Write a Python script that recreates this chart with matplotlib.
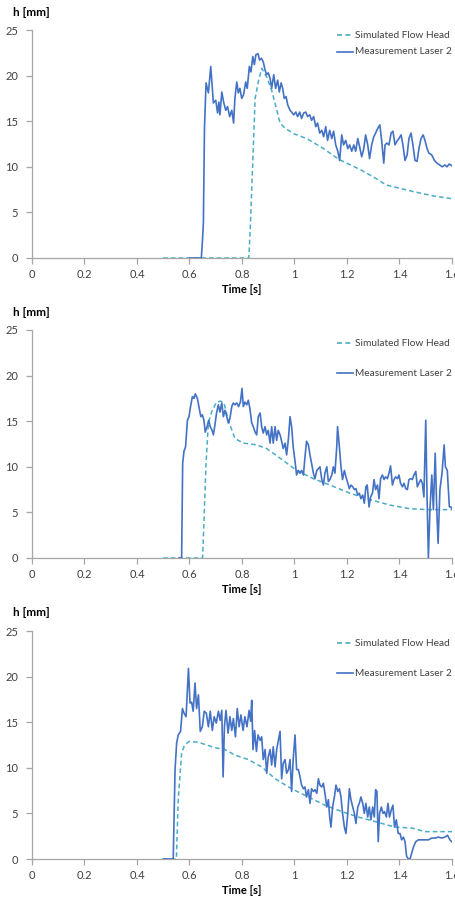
import matplotlib
matplotlib.use("Agg")
import matplotlib.pyplot as plt
from matplotlib.lines import Line2D

plt.rcParams['font.family'] = ['Lato', 'DejaVu Sans']

# ---------------- data ----------------
# Panel 1
t_meas1 = [0.6, 0.645, 0.650, 0.653, 0.657, 0.663, 0.672, 0.681, 0.691, 0.700, 0.707, 0.712, 0.716, 0.723,
           0.730, 0.738, 0.745, 0.753, 0.761, 0.768, 0.773, 0.780, 0.786, 0.792, 0.799, 0.806, 0.814,
           0.820, 0.828, 0.834, 0.841, 0.847, 0.853, 0.861, 0.867, 0.874, 0.881, 0.888, 0.894, 0.900,
           0.907, 0.913, 0.921, 0.928, 0.936, 0.942, 0.949, 0.955, 0.961, 0.968, 0.974, 0.983, 0.989,
           0.997, 1.005, 1.012, 1.020, 1.027, 1.035, 1.043, 1.050, 1.058, 1.065, 1.073, 1.081, 1.088,
           1.096, 1.104, 1.111, 1.119, 1.126, 1.134, 1.142, 1.149, 1.157, 1.165, 1.172, 1.180, 1.187,
           1.195, 1.203, 1.210, 1.218, 1.226, 1.233, 1.241, 1.248, 1.256, 1.264, 1.271, 1.279, 1.286,
           1.294, 1.302, 1.309, 1.317, 1.325, 1.332, 1.340, 1.345, 1.352, 1.360, 1.368, 1.375, 1.383,
           1.390, 1.398, 1.406, 1.413, 1.421, 1.429, 1.436, 1.444, 1.451, 1.459, 1.467, 1.474, 1.482,
           1.490, 1.497, 1.505, 1.512, 1.523, 1.533, 1.543, 1.553, 1.563, 1.573, 1.581, 1.589, 1.600]
h_meas1 = [0.0, 0.0, 2.2, 4.0, 14.2, 19.2, 18.1, 21.0, 17.0, 17.3, 15.9, 17.1, 15.7, 18.2,
           17.1, 16.2, 16.6, 15.5, 16.2, 14.8, 17.5, 19.3, 18.1, 18.6, 17.5, 17.9, 19.3,
           18.6, 21.0, 20.4, 22.1, 21.2, 22.3, 22.4, 21.7, 21.9, 21.5, 20.6, 20.1, 20.3,
           19.7, 18.6, 20.1, 18.6, 19.5, 18.2, 19.2, 18.6, 17.5, 17.7, 16.8, 16.2, 16.0,
           15.7, 16.0, 15.5, 16.0, 15.3, 15.9, 16.0, 15.5, 15.7, 15.1, 15.5, 14.4, 14.8,
           13.7, 14.0, 13.3, 14.4, 12.9, 14.0, 13.1, 13.9, 12.4, 11.7, 10.7, 13.5, 12.4,
           12.9, 12.0, 12.4, 11.7, 12.4, 11.7, 13.1, 12.2, 11.1, 12.0, 13.5, 12.4, 10.9,
           12.4, 13.3, 13.7, 14.2, 14.6, 12.9, 10.4, 12.4, 12.6, 12.4, 13.7, 13.9, 12.4,
           12.8, 13.1, 13.5, 12.4, 10.7, 11.3, 13.1, 13.7, 12.4, 10.7, 10.6, 12.0, 13.1,
           13.5, 12.9, 12.0, 11.5, 11.3, 10.7, 10.4, 10.2, 10.0, 10.2, 10.0, 10.3, 10.1]
t_sim1 = [0.5, 0.826, 0.832, 0.850, 0.862, 0.875, 0.895, 0.913, 0.945, 0.965, 1.0, 1.046, 1.105,
          1.17, 1.25, 1.30, 1.35, 1.45, 1.53, 1.6]
h_sim1 = [0.0, 0.0, 3.6, 17.5, 19.3, 20.8, 19.8, 18.4, 14.8, 14.2, 13.6, 13.1, 12.1,
          10.8, 9.7, 8.9, 8.0, 7.3, 6.8, 6.5]

# Panel 2
t_meas2 = [0.56, 0.570, 0.574, 0.579, 0.585, 0.592, 0.598, 0.604, 0.611, 0.617, 0.622, 0.630, 0.636, 0.643,
           0.649, 0.655, 0.660, 0.667, 0.673, 0.679, 0.686, 0.691, 0.697, 0.703, 0.710, 0.716, 0.723,
           0.729, 0.735, 0.742, 0.748, 0.754, 0.761, 0.767, 0.773, 0.780, 0.787, 0.794, 0.800, 0.805,
           0.811, 0.818, 0.824, 0.830, 0.837, 0.843, 0.850, 0.856, 0.862, 0.869, 0.875, 0.881, 0.888,
           0.894, 0.900, 0.907, 0.913, 0.919, 0.926, 0.932, 0.938, 0.945, 0.951, 0.957, 0.964, 0.970,
           0.977, 0.983, 0.989, 0.995, 1.002, 1.008, 1.015, 1.021, 1.027, 1.034, 1.040, 1.046, 1.053,
           1.059, 1.065, 1.072, 1.078, 1.085, 1.091, 1.097, 1.104, 1.110, 1.116, 1.123, 1.129, 1.135,
           1.142, 1.148, 1.154, 1.161, 1.164, 1.171, 1.177, 1.183, 1.190, 1.196, 1.203, 1.209, 1.215,
           1.222, 1.228, 1.234, 1.241, 1.247, 1.253, 1.260, 1.266, 1.272, 1.277, 1.284, 1.290, 1.297,
           1.303, 1.309, 1.316, 1.322, 1.328, 1.335, 1.341, 1.347, 1.354, 1.360, 1.366, 1.373, 1.379,
           1.385, 1.392, 1.398, 1.404, 1.411, 1.417, 1.424, 1.430, 1.436, 1.443, 1.449, 1.455, 1.462,
           1.468, 1.474, 1.481, 1.487, 1.493, 1.500, 1.505, 1.510, 1.516, 1.523, 1.529, 1.536, 1.542,
           1.547, 1.554, 1.562, 1.570, 1.575, 1.582, 1.590, 1.596, 1.600]
h_meas2 = [0.0, 0.0, 10.4, 11.7, 12.2, 15.1, 15.5, 16.6, 17.7, 17.5, 18.0, 17.5, 16.6, 15.5,
           15.7, 15.1, 13.8, 14.4, 15.1, 14.4, 14.0, 13.5, 14.6, 15.9, 16.8, 16.0, 17.0,
           15.5, 16.2, 15.5, 14.8, 15.3, 16.6, 17.0, 16.8, 17.0, 16.6, 17.1, 18.6, 16.6,
           17.1, 16.8, 17.3, 16.4, 14.8, 14.4, 13.8, 13.5, 15.5, 15.9, 14.4, 13.7, 14.4,
           13.5, 14.0, 12.6, 14.4, 12.6, 14.4, 12.9, 14.0, 13.5, 12.8, 12.0, 12.6, 11.3,
           13.1, 15.5, 14.4, 12.2, 10.6, 9.1, 9.6, 9.3, 9.6, 9.1, 11.1, 12.8, 12.4,
           11.3, 10.4, 9.3, 8.7, 9.6, 9.8, 10.0, 8.6, 8.0, 9.3, 10.0, 8.4, 8.6,
           9.1, 10.0, 9.3, 12.2, 14.4, 12.2, 10.0, 8.6, 9.6, 8.9, 8.2, 7.6, 8.0,
           7.8, 7.5, 7.6, 6.9, 7.1, 6.5, 6.9, 6.0, 7.8, 8.0, 5.6, 6.7, 7.1,
           8.6, 7.5, 8.0, 6.5, 8.7, 9.1, 8.6, 8.9, 8.7, 9.3, 10.1, 8.0, 8.6,
           8.9, 8.7, 9.1, 8.2, 7.8, 8.2, 7.6, 7.5, 8.6, 8.7, 8.6, 9.1, 9.5,
           7.8, 8.2, 8.6, 8.2, 6.7, 15.1, 6.7, 0.0, 5.3, 9.1, 5.3, 11.5, 5.3,
           1.6, 7.5, 9.3, 12.4, 10.0, 9.6, 5.6, 5.6, 5.4]
t_sim2 = [0.5, 0.650, 0.663, 0.672, 0.684, 0.703, 0.719, 0.731, 0.748, 0.773, 0.805, 0.856, 0.894,
          0.957, 1.008, 1.072, 1.135, 1.211, 1.288, 1.364, 1.44, 1.516, 1.6]
h_sim2 = [0.0, 0.0, 10.4, 14.8, 16.0, 17.1, 17.2, 17.0, 15.1, 13.1, 12.6, 12.4, 12.0,
          10.7, 9.6, 8.7, 8.0, 7.1, 6.4, 5.8, 5.4, 5.3, 5.3]

# Panel 3
t_meas3 = [0.5, 0.538, 0.545, 0.551, 0.557, 0.566, 0.573, 0.579, 0.587, 0.596, 0.602, 0.608, 0.614, 0.621,
           0.627, 0.634, 0.641, 0.649, 0.656, 0.664, 0.672, 0.679, 0.687, 0.694, 0.702, 0.710, 0.717,
           0.723, 0.728, 0.733, 0.739, 0.747, 0.754, 0.761, 0.767, 0.775, 0.782, 0.789, 0.796, 0.804,
           0.811, 0.819, 0.827, 0.833, 0.837, 0.842, 0.848, 0.855, 0.861, 0.869, 0.875, 0.881, 0.888,
           0.894, 0.900, 0.907, 0.913, 0.919, 0.926, 0.932, 0.938, 0.945, 0.951, 0.957, 0.964, 0.970,
           0.977, 0.983, 0.989, 0.995, 1.002, 1.008, 1.015, 1.021, 1.027, 1.034, 1.040, 1.046, 1.053,
           1.059, 1.065, 1.072, 1.078, 1.085, 1.091, 1.097, 1.104, 1.110, 1.116, 1.123, 1.129, 1.134,
           1.139, 1.145, 1.152, 1.158, 1.165, 1.171, 1.177, 1.183, 1.190, 1.196, 1.203, 1.209, 1.215,
           1.222, 1.228, 1.234, 1.241, 1.247, 1.253, 1.260, 1.266, 1.272, 1.279, 1.285, 1.291, 1.298,
           1.304, 1.309, 1.314, 1.319, 1.324, 1.331, 1.337, 1.343, 1.350, 1.356, 1.362, 1.369, 1.375,
           1.381, 1.388, 1.395, 1.402, 1.408, 1.415, 1.421, 1.427, 1.434, 1.440, 1.446, 1.453, 1.462,
           1.472, 1.485, 1.497, 1.510, 1.523, 1.535, 1.548, 1.561, 1.573, 1.583, 1.592, 1.599]
h_meas3 = [0.0, 0.0, 9.8, 12.7, 13.6, 14.0, 16.5, 16.0, 15.6, 20.9, 17.1, 17.2, 16.2, 19.3,
           16.5, 18.0, 14.0, 14.5, 16.2, 16.0, 14.5, 16.2, 14.1, 15.6, 14.9, 16.2, 15.2,
           16.3, 9.0, 14.5, 16.3, 13.8, 15.6, 14.1, 15.4, 13.4, 16.5, 14.5, 15.8, 14.1,
           15.6, 14.5, 16.3, 15.1, 17.4, 12.0, 14.1, 11.8, 13.6, 13.0, 13.4, 10.9, 12.0,
           9.4, 11.2, 12.0, 10.3, 12.3, 10.1, 12.0, 12.9, 14.0, 8.8, 10.5, 10.9, 9.4,
           9.8, 10.9, 7.4, 10.9, 13.6, 9.8, 9.8, 9.0, 8.1, 7.7, 7.9, 6.8, 7.6,
           6.1, 7.7, 7.4, 7.6, 7.2, 8.8, 8.1, 7.9, 8.3, 7.2, 5.7, 6.5, 4.6,
           3.5, 5.7, 6.8, 8.1, 7.4, 7.7, 6.8, 5.0, 3.5, 2.8, 5.0, 7.7, 6.5,
           5.7, 5.0, 3.9, 5.7, 6.1, 6.8, 6.1, 5.0, 6.1, 4.6, 5.7, 4.3, 5.7,
           4.6, 7.6, 7.4, 1.9, 5.0, 5.7, 5.0, 5.2, 4.6, 6.1, 4.6, 5.4, 5.9,
           3.5, 4.3, 2.8, 2.8, 2.1, 2.4, 1.9, 0.3, 0.0, 0.0, 0.6, 1.3, 1.9,
           2.1, 2.1, 2.1, 2.1, 2.3, 2.3, 2.4, 2.3, 2.4, 2.6, 2.1, 1.9]
t_sim3 = [0.5, 0.550, 0.557, 0.570, 0.580, 0.598, 0.634, 0.697, 0.735, 0.773, 0.824, 0.875, 0.926,
          0.989, 1.053, 1.116, 1.180, 1.243, 1.307, 1.383, 1.446, 1.497, 1.6]
h_sim3 = [0.0, 0.0, 6.5, 11.6, 12.4, 12.9, 12.8, 12.2, 12.0, 11.4, 10.9, 10.1, 8.8,
          7.7, 6.8, 5.9, 5.2, 4.6, 4.1, 3.5, 3.4, 3.0, 3.0]

x_ticks = [0, 0.2, 0.4, 0.6, 0.8, 1.0, 1.2, 1.4, 1.6]
x_ticklabels = ["0", "0.2", "0.4", "0.6", "0.8", "1", "1.2", "1.4", "1.6"]
y_ticks = [0, 5, 10, 15, 20, 25]
sim_label = "Simulated Flow Head"
meas_label = "Measurement Laser 2"
y_label = "h [mm]"
x_label = "Time [s]"

panels = [(t_sim1, h_sim1, t_meas1, h_meas1),
          (t_sim2, h_sim2, t_meas2, h_meas2),
          (t_sim3, h_sim3, t_meas3, h_meas3)]

# ---------------- figure ----------------
W, H = 456, 898
fig = plt.figure(figsize=(W / 100, H / 100), dpi=100)

meas_color = "#4472C4"
sim_color = "#4BACC6"
axis_color = "#A6A6A6"
text_color = "#404040"

left_px, right_px = 32, 452
zero_px = [258, 558, 859]
plot_h_px = 228
legend_rows = [(35, 52), (343, 373), (643, 673)]

for i, (ts, hs, tm, hm) in enumerate(panels):
    bottom = 1 - zero_px[i] / H
    ax = fig.add_axes([left_px / W, bottom, (right_px - left_px) / W, plot_h_px / H])
    ax.plot(ts, hs, color=sim_color, lw=1.1, ls=(0, (3, 2)), zorder=3)
    ax.plot(tm, hm, color=meas_color, lw=1.2, zorder=4)
    ax.set_xlim(0, 1.6)
    ax.set_ylim(0, 25)
    ax.set_xticks(x_ticks)
    ax.set_xticklabels(x_ticklabels)
    ax.set_yticks(y_ticks)
    for s in ["top", "right"]:
        ax.spines[s].set_visible(False)
    for s in ["left", "bottom"]:
        ax.spines[s].set_color(axis_color)
        ax.spines[s].set_linewidth(0.9)
    ax.tick_params(axis="both", colors=axis_color, length=4, width=0.9,
                   labelcolor=text_color, labelsize=8)
    ax.tick_params(axis="y", pad=6)
    ax.tick_params(axis="x", pad=4)
    ax.set_xlabel(x_label, fontsize=8, fontweight="bold", color="black", labelpad=3)
    fig.text(13 / W, 1 - (zero_px[i] - 246) / H, y_label, fontsize=8.5, fontweight="bold",
             color="black", ha="left", va="center")

    # legend drawn manually in figure pixel coordinates
    for (ypx, col, dash, lab) in [(legend_rows[i][0], sim_color, (0, (3, 2)), sim_label),
                                  (legend_rows[i][1], meas_color, "-", meas_label)]:
        yf = 1 - ypx / H
        fig.add_artist(Line2D([337 / W, 353 / W], [yf, yf], color=col, lw=1.2, ls=dash,
                              transform=fig.transFigure))
        fig.text(355 / W, yf, lab, fontsize=7.3, color=text_color, ha="left", va="center")

fig.savefig("out.png", dpi=100)
